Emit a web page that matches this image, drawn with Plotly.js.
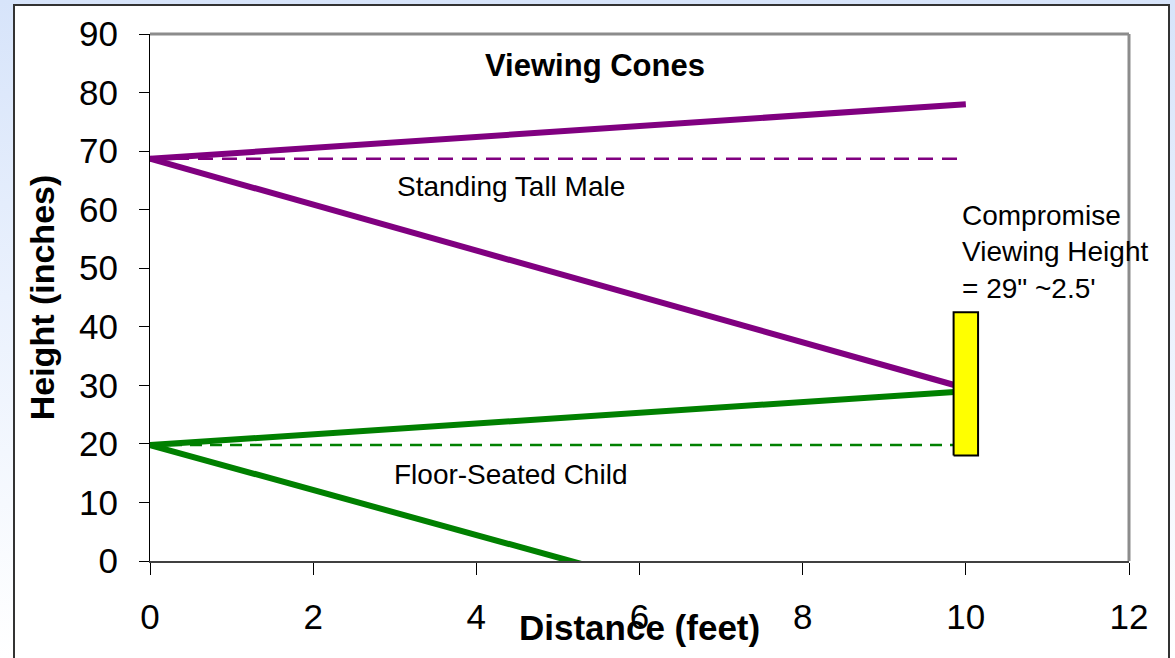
<!DOCTYPE html>
<html>
<head>
<meta charset="utf-8">
<script src="https://cdn.plot.ly/plotly-3.0.1.min.js"></script>
<style>
  html, body { margin: 0; padding: 0; }
  body { width: 1175px; height: 658px; overflow: hidden; position: relative;
         background: linear-gradient(to bottom, #d7e4fa 0%, #eaf1fd 45%, #ffffff 100%); }
  #frame { position: absolute; left: 13px; top: 4px; width: 1157px; height: 700px;
           background: #ffffff; border: 2px solid #333333; box-sizing: border-box; }
  #chart { position: absolute; left: 0; top: 0; width: 1175px; height: 658px; }
</style>
</head>
<body>
<div id="frame"></div>
<div id="chart"></div>
<script>
// Distances (feet)
const xStart = [0, 0];          // eye positions
const xEnd = [10, 10];          // viewing distance
// Standing tall male (inches)
const maleEye = 68.7;
const maleUpper = 78;
const maleLower = 29.5;
// Floor-seated child (inches)
const childEye = 19.8;
const childUpper = 29;
const childLower = -18.6;
// Compromise viewing screen
const screenX = 10;
const screenBottom = 18;
const screenTop = 42.5;
// Axis ticks
const xTicks = [0, 2, 4, 6, 8, 10, 12];
const yTicks = [0, 10, 20, 30, 40, 50, 60, 70, 80, 90];

const purple = '#800080';
const green = '#008000';
const FONT = 'Liberation Sans, Arial, sans-serif';

const traces = [
  {x: [xStart[0], xEnd[0]], y: [maleEye, maleEye], mode: 'lines',
   line: {color: purple, width: 2.5, dash: '15px,9px'}, hoverinfo: 'skip'},
  {x: [xStart[0], xEnd[0]], y: [childEye, childEye], mode: 'lines',
   line: {color: green, width: 2.5, dash: '12px,8px'}, hoverinfo: 'skip'},
  {x: [xStart[0], xEnd[0]], y: [maleEye, maleUpper], mode: 'lines',
   line: {color: purple, width: 6}},
  {x: [xStart[1], xEnd[1]], y: [maleEye, maleLower], mode: 'lines',
   line: {color: purple, width: 6}},
  {x: [xStart[0], xEnd[0]], y: [childEye, childUpper], mode: 'lines',
   line: {color: green, width: 6}},
  {x: [xStart[1], xEnd[1]], y: [childEye, childLower], mode: 'lines',
   line: {color: green, width: 6}}
];
const hw = 0.15;
traces.push({
  x: [screenX - hw, screenX + hw, screenX + hw, screenX - hw, screenX - hw],
  y: [screenBottom, screenBottom, screenTop, screenTop, screenBottom],
  mode: 'lines', fill: 'toself', fillcolor: '#ffff00',
  line: {color: '#000000', width: 2}, hoverinfo: 'skip'
});

const layout = {
  width: 1175, height: 658,
  margin: {l: 150, r: 46, t: 34, b: 97},
  paper_bgcolor: 'rgba(0,0,0,0)',
  plot_bgcolor: '#ffffff',
  showlegend: false,
  font: {family: FONT, color: '#000000'},
  xaxis: {
    range: [0, 12], tickvals: xTicks, ticktext: xTicks.map(String),
    showgrid: false, zeroline: false,
    showline: true, linecolor: '#404040', linewidth: 2,
    ticks: 'outside', ticklen: 12, tickcolor: '#000000', tickwidth: 1,
    tickfont: {size: 35, family: FONT}, ticklabelstandoff: 12
  },
  yaxis: {
    range: [0, 90], tickvals: yTicks, ticktext: yTicks.map(String),
    showgrid: false, zeroline: false,
    showline: true, linecolor: '#000000', linewidth: 1,
    ticks: 'outside', ticklen: 10, tickcolor: '#000000', tickwidth: 1,
    tickfont: {size: 35, family: FONT}, ticklabelstandoff: 14,
    title: {text: '<b>Height (inches)</b>', font: {size: 34, family: FONT}, standoff: 14}
  },
  shapes: [
    {type: 'line', xref: 'paper', yref: 'paper', x0: 0, x1: 1, y0: 1, y1: 1,
     line: {color: '#8c8c8c', width: 3}},
    {type: 'line', xref: 'paper', yref: 'paper', x0: 1, x1: 1, y0: 0, y1: 1,
     line: {color: '#8c8c8c', width: 3}}
  ],
  annotations: [
    {text: '<b>Viewing Cones</b>', x: 5.45, y: 84.7, xref: 'x', yref: 'y',
     showarrow: false, font: {size: 31, family: FONT}},
    {text: 'Standing Tall Male', x: 4.42, y: 64.0, xref: 'x', yref: 'y',
     showarrow: false, font: {size: 28, family: FONT}},
    {text: 'Floor-Seated Child', x: 4.42, y: 14.7, xref: 'x', yref: 'y',
     showarrow: false, font: {size: 28, family: FONT}},
    {text: 'Compromise<br>Viewing Height<br>= 29" ~2.5\'', x: 9.93, y: 52.8,
     xref: 'x', yref: 'y', xanchor: 'left', yanchor: 'middle', align: 'left',
     showarrow: false, font: {size: 28, family: FONT}},
    {text: '<b>Distance (feet)</b>', x: 0.5, y: -0.127, xref: 'paper', yref: 'paper',
     xanchor: 'center', yanchor: 'middle', showarrow: false,
     font: {size: 35, family: FONT}}
  ]
};

Plotly.newPlot('chart', traces, layout, {displayModeBar: false, staticPlot: true});
</script>
</body>
</html>
